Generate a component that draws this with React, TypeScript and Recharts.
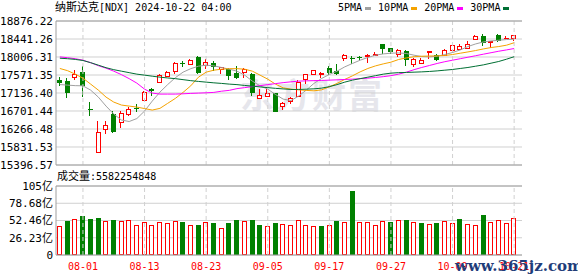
import { ComposedChart, Bar, Line, XAxis, YAxis, CartesianGrid, ReferenceLine } from 'recharts'

const dates = [
  '07-29', '07-30', '07-31', '08-01', '08-02', '08-05', '08-06', '08-07', '08-08', '08-09',
  '08-12', '08-13', '08-14', '08-15', '08-16', '08-19', '08-20', '08-21', '08-22', '08-23',
  '08-26', '08-27', '08-28', '08-29', '08-30', '09-03', '09-04', '09-05', '09-06', '09-09',
  '09-10', '09-11', '09-12', '09-13', '09-16', '09-17', '09-18', '09-19', '09-20', '09-23',
  '09-24', '09-25', '09-26', '09-27', '09-30', '10-01', '10-02', '10-03', '10-04', '10-07',
  '10-08', '10-09', '10-10', '10-11', '10-14', '10-15', '10-16', '10-17', '10-18', '10-21'
]

const opens = [
  17447, 17423, 17512, 17647, 16755, 15719, 16273, 16620, 16428, 16635,
  16770, 16958, 17223, 17406, 17536, 17664, 17850, 17840, 18001, 17808,
  17850, 17705, 17705, 17616, 17647, 17592, 17021, 17069, 17125, 16820,
  16948, 17069, 17464, 17584, 17584, 17729, 17664, 17985, 17985, 17995,
  18025, 18045, 18332, 18235, 18090, 18146, 17840, 17865, 18135, 18066,
  18049, 18186, 18194, 18235, 18452, 18507, 18380, 18531, 18467, 18467
]
const highs = [
  17527, 17488, 17688, 17792, 16910, 16459, 16459, 16707, 16700, 16804,
  16867, 17182, 17262, 17584, 17664, 17888, 17912, 17953, 18025, 17970,
  17912, 17768, 17729, 17784, 17743, 17608, 17230, 17222, 17141, 16924,
  17037, 17447, 17600, 17704, 17632, 17792, 17833, 18090, 18041, 18041,
  18090, 18130, 18332, 18235, 18194, 18170, 17985, 17985, 18150, 18090,
  18210, 18307, 18332, 18387, 18548, 18572, 18400, 18556, 18515, 18548
]
const lows = [
  17302, 17020, 17447, 17045, 16587, 15705, 16138, 16170, 16283, 16580,
  16683, 16941, 17055, 17392, 17520, 17592, 17768, 17808, 17600, 17705,
  17660, 17584, 17447, 17478, 17502, 17061, 17005, 17037, 16675, 16731,
  16860, 17030, 17343, 17560, 17488, 17568, 17568, 17921, 17849, 17930,
  17873, 18033, 18090, 18090, 18009, 17792, 17768, 17840, 17970, 17912,
  18033, 18146, 18170, 18218, 18435, 18274, 18215, 18370, 18435, 18403
]
const closes = [
  17382, 17141, 17592, 17310, 16741, 16187, 16363, 16187, 16645, 16741,
  16760, 17165, 17182, 17568, 17632, 17873, 17830, 17929, 17624, 17880,
  17753, 17760, 17544, 17502, 17719, 17141, 17085, 17141, 16683, 16892,
  17013, 17406, 17584, 17688, 17608, 17624, 17584, 18050, 17970, 17985,
  18060, 18070, 18211, 18130, 18178, 17929, 17950, 17940, 18146, 17945,
  18186, 18295, 18280, 18332, 18507, 18346, 18395, 18400, 18475, 18531
]
const prevClose = 17300

const ma5 = [
  17340, 17327, 17314, 17310, 17206, 17037, 16820, 16628, 16483, 16447,
  16519, 16700, 16941, 17158, 17339, 17507, 17640, 17724, 17784, 17809,
  17792, 17753, 17712, 17664, 17568, 17423, 17310, 17230, 17102, 16989,
  16953, 17061, 17206, 17368, 17488, 17584, 17664, 17768, 17850, 17929,
  17994, 18050, 18081, 18098, 18105, 18091, 18050, 18018, 18009, 18025,
  18066, 18115, 18177, 18259, 18322, 18370, 18394, 18411, 18428, 18435
]
const ma10 = [
  17729, 17676, 17592, 17495, 17351, 17206, 17037, 16917, 16845, 16820,
  16796, 16760, 16724, 16765, 16886, 17006, 17151, 17310, 17519, 17640,
  17688, 17712, 17724, 17724, 17712, 17664, 17568, 17471, 17351, 17261,
  17230, 17213, 17199, 17189, 17213, 17286, 17368, 17464, 17551, 17647,
  17729, 17792, 17840, 17881, 17946, 17984, 18013, 18025, 18030, 18033,
  18042, 18066, 18098, 18129, 18163, 18201, 18235, 18259, 18291, 18351
]
const ma20 = [
  18009, 17989, 17965, 17929, 17869, 17796, 17736, 17664, 17580, 17483,
  17375, 17230, 17134, 17110, 17110, 17110, 17117, 17127, 17134, 17141,
  17151, 17180, 17200, 17242, 17266, 17290, 17314, 17339, 17363, 17387,
  17406, 17423, 17430, 17435, 17440, 17447, 17454, 17464, 17471, 17483,
  17495, 17512, 17531, 17555, 17592, 17640, 17700, 17753, 17801, 17850,
  17893, 17929, 17965, 18001, 18037, 18074, 18110, 18146, 18177, 18211
]
const ma30 = [
  17977, 17965, 17948, 17922, 17869, 17809, 17748, 17700, 17664, 17628,
  17592, 17568, 17543, 17519, 17500, 17483, 17459, 17435, 17416, 17399,
  17382, 17368, 17351, 17339, 17319, 17302, 17283, 17266, 17249, 17235,
  17223, 17223, 17230, 17237, 17254, 17290, 17339, 17399, 17447, 17483,
  17519, 17555, 17592, 17616, 17628, 17633, 17640, 17647, 17657, 17671,
  17688, 17705, 17729, 17753, 17784, 17816, 17857, 17898, 17953, 18013
]

// 成交量，单位：亿
const volumes = [
  43.5, 51.4, 55.4, 58.9, 54.4, 55.9, 51.4, 52.9, 51.4, 53.9,
  45.0, 49.9, 45.4, 49.9, 48.4, 52.4, 49.9, 45.4, 45.4, 49.9,
  48.4, 40.5, 48.4, 52.9, 51.4, 52.9, 45.4, 43.5, 48.4, 46.9,
  45.4, 53.9, 45.4, 43.5, 43.5, 45.4, 51.4, 49.9, 97.6, 49.9,
  49.9, 45.4, 51.4, 49.9, 53.9, 52.9, 49.9, 48.4, 46.9, 48.4,
  51.4, 48.4, 54.4, 46.9, 45.0, 60.3, 49.9, 53.9, 48.4, 55.82
]
const lastVolume = 5582254848

const priceTicks = [15396.57, 15831.53, 16266.48, 16701.44, 17136.40, 17571.35, 18006.31, 18441.26, 18876.22]
const volTicks = [0, 26.23, 52.46, 78.68, 104.92]
const volTickLabels = ['0', '26.23亿', '52.46亿', '78.68亿', '105亿']
const dateTicks = ['08-01', '08-13', '08-23', '09-05', '09-17', '09-27', '10-09', '10-21']

const maSeries = [
  { key: 'ma5', name: '5PMA', color: '#a0a0a0' },
  { key: 'ma10', name: '10PMA', color: '#f5a300' },
  { key: 'ma20', name: '20PMA', color: '#ff00ff' },
  { key: 'ma30', name: '30PMA', color: '#006f33' }
]

const UP = '#ff0000'
const DOWN = '#008000'
const GRID = '#d0d0d0'
const BORDER = '#a0a0a0'
const MONO = "'DejaVu Sans Mono', 'Noto Sans CJK SC', monospace"

const data = dates.map((date, i) => ({
  date,
  open: opens[i],
  high: highs[i],
  low: lows[i],
  close: closes[i],
  ma5: ma5[i],
  ma10: ma10[i],
  ma20: ma20[i],
  ma30: ma30[i],
  vol: volumes[i],
  volUp: closes[i] >= (i === 0 ? prevClose : closes[i - 1])
}))

function Candle(props: any) {
  const { x, y, width, height, payload } = props
  const { open, close, high, low } = payload
  const span = high - low || 1
  const py = (v: number) => Math.round(y + ((high - v) / span) * height)
  const cx = Math.round(x + width / 2) - 0.5
  const left = Math.round(x)
  const w = Math.round(width)
  const yHigh = py(high)
  const yLow = py(low)
  const yTop = py(Math.max(open, close))
  const yBot = py(Math.min(open, close))
  if (close >= open) {
    if (yBot - yTop < 1) {
      return (
        <g>
          <line x1={cx} x2={cx} y1={yHigh} y2={yLow} stroke={UP} />
          <line x1={left} x2={left + w} y1={yTop + 0.5} y2={yTop + 0.5} stroke={UP} />
        </g>
      )
    }
    return (
      <g>
        <line x1={cx} x2={cx} y1={yHigh} y2={yTop} stroke={UP} />
        <line x1={cx} x2={cx} y1={yBot} y2={yLow} stroke={UP} />
        <rect x={left + 0.5} y={yTop + 0.5} width={w - 1} height={yBot - yTop} fill="#fff" stroke={UP} />
      </g>
    )
  }
  return (
    <g>
      <line x1={cx} x2={cx} y1={yHigh} y2={yLow} stroke={DOWN} />
      <rect x={left} y={yTop} width={w} height={Math.max(yBot - yTop, 1)} fill={DOWN} />
    </g>
  )
}

function VolBar(props: any) {
  const { x, y, width, height, payload } = props
  const left = Math.round(x)
  const top = Math.round(y)
  const w = Math.round(width)
  const h = Math.round(height)
  if (payload.volUp) {
    return <rect x={left + 0.5} y={top + 0.5} width={w - 1} height={Math.max(h - 1, 0)} fill="#fff" stroke={UP} />
  }
  return <rect x={left} y={top} width={w} height={h} fill={DOWN} />
}

export default function App() {
  return (
    <div style={{ position: 'absolute', left: 0, top: 0, width: 578, height: 276, background: '#fff', overflow: 'hidden' }}>
      <div
        style={{
          position: 'absolute', left: 240, top: 74, fontSize: 34, fontWeight: 'bold',
          color: '#e6e6ec', fontFamily: "'Noto Sans CJK SC', sans-serif", letterSpacing: 2, lineHeight: '40px'
        }}
      >
        东方财富
      </div>

      <div style={{ position: 'absolute', left: 55, top: 1, fontFamily: MONO, fontSize: 10, lineHeight: '14px', color: '#000', whiteSpace: 'nowrap' }}>
        <span style={{ fontSize: 11 }}>纳斯达克</span>[NDX] 2024-10-22 04:00
      </div>

      <div style={{ position: 'absolute', left: 338, top: 1, display: 'flex', alignItems: 'center', fontFamily: MONO, fontSize: 10, lineHeight: '14px', color: '#000' }}>
        {maSeries.map((m, i) => (
          <div key={m.key} style={{ display: 'flex', alignItems: 'center', marginLeft: i === 0 ? 0 : 7 }}>
            <span>{m.name}</span>
            <span style={{ display: 'inline-block', width: 6, height: 3, background: m.color, marginLeft: 3 }} />
          </div>
        ))}
      </div>

      <div style={{ position: 'absolute', left: 0, top: 0 }}>
        <ComposedChart width={578} height={176} data={data} margin={{ top: 21, right: 56, bottom: 11, left: 0 }}>
          <CartesianGrid vertical={false} stroke={GRID} />
          <XAxis dataKey="date" ticks={dateTicks} interval={0} height={0} tick={false} axisLine={false} tickLine={false} padding={{ left: 0, right: 4 }} />
          <YAxis
            domain={[priceTicks[0], priceTicks[priceTicks.length - 1]]}
            ticks={priceTicks}
            interval={0}
            allowDataOverflow
            width={56}
            tickSize={0}
            tickMargin={3}
            tickFormatter={(v: number) => v.toFixed(2)}
            tick={{ fontSize: 11, fontFamily: MONO, fill: '#000' }}
            axisLine={{ stroke: BORDER }}
            tickLine={false}
          />
          <YAxis yAxisId="r" orientation="right" width={0} tick={false} tickLine={false} axisLine={{ stroke: BORDER }} />
          {dateTicks.map(d => (
            <ReferenceLine key={d} x={d} stroke={GRID} strokeDasharray="4 3" />
          ))}
          <ReferenceLine y={priceTicks[priceTicks.length - 1]} stroke={BORDER} />
          <ReferenceLine y={priceTicks[0]} stroke={BORDER} />
          {maSeries.map(m => (
            <Line key={m.key} type="linear" dataKey={m.key} stroke={m.color} strokeWidth={1} dot={false} activeDot={false} isAnimationActive={false} />
          ))}
          <Bar dataKey={(d: any) => [d.low, d.high]} barSize={5} shape={Candle} isAnimationActive={false} />
        </ComposedChart>
      </div>

      <div style={{ position: 'absolute', left: 57, top: 170, fontFamily: MONO, fontSize: 10, lineHeight: '14px', color: '#000', whiteSpace: 'nowrap' }}>
        <span style={{ fontSize: 11 }}>成交量</span>:{lastVolume}
      </div>

      <div style={{ position: 'absolute', left: 0, top: 170 }}>
        <ComposedChart width={578} height={106} data={data} margin={{ top: 16, right: 56, bottom: 0, left: 0 }}>
          <CartesianGrid vertical={false} stroke={GRID} />
          <XAxis
            dataKey="date"
            ticks={dateTicks}
            interval={0}
            height={21}
            tickSize={0}
            tickMargin={8}
            tick={{ fontSize: 10, fontFamily: MONO, fill: '#ff0000' }}
            axisLine={{ stroke: BORDER }}
            tickLine={false}
            padding={{ left: 0, right: 4 }}
          />
          <YAxis
            domain={[0, volTicks[volTicks.length - 1]]}
            ticks={volTicks}
            interval={0}
            allowDataOverflow
            width={56}
            tickSize={0}
            tickMargin={3}
            tickFormatter={(v: number) => volTickLabels[volTicks.indexOf(v)] ?? ''}
            tick={{ fontSize: 11, fontFamily: MONO, fill: '#000' }}
            axisLine={{ stroke: BORDER }}
            tickLine={false}
          />
          <YAxis yAxisId="r" orientation="right" width={0} tick={false} tickLine={false} axisLine={{ stroke: BORDER }} />
          {dateTicks.map(d => (
            <ReferenceLine key={d} x={d} stroke={GRID} strokeDasharray="4 3" />
          ))}
          <ReferenceLine y={volTicks[volTicks.length - 1]} stroke={BORDER} />
          <Bar dataKey="vol" barSize={5} shape={VolBar} isAnimationActive={false} />
        </ComposedChart>
      </div>

      <div
        style={{
          position: 'absolute', left: 455, top: 256, fontFamily: "'DejaVu Serif', serif", fontWeight: 'bold',
          fontSize: 15, color: '#1f3d7a', lineHeight: '20px', whiteSpace: 'nowrap'
        }}
      >
        www.365jz.com
      </div>
    </div>
  )
}
